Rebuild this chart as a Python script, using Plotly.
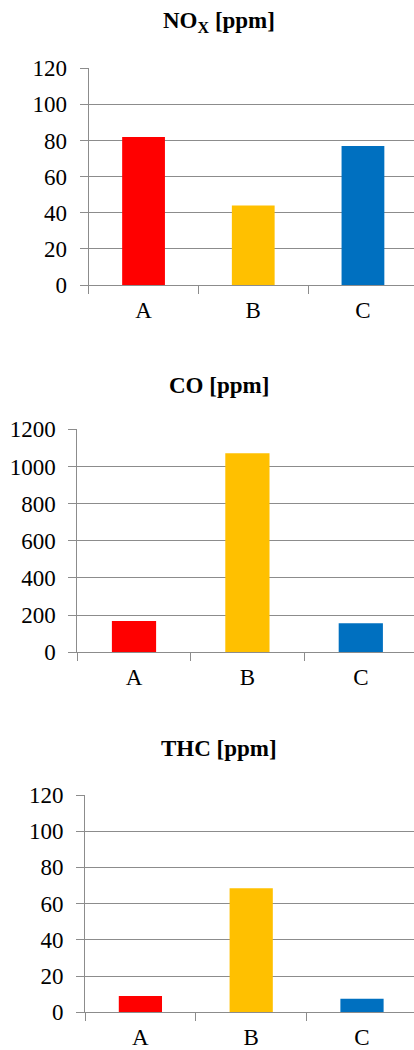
import plotly.graph_objects as go

categories = ["A", "B", "C"]
nox = [82, 44, 77]
co = [168, 1071, 156]
thc = [9, 68.5, 7.5]
colors = ["#FF0000", "#FFC000", "#0070C0"]
titles = ["NO<sub>X</sub> [ppm]", "CO [ppm]", "THC [ppm]"]
ymax = [120, 1200, 120]
ydtick = [20, 200, 20]

W, H = 414, 1050
# pixel geometry: (axis left x, plot top y, plot bottom y, category width, title y)
geo = [
    (88.7, 68.3, 285.0, 109.7, 22),
    (77.3, 429.3, 652.3, 113.4, 385),
    (85.0, 795.0, 1012.3, 110.8, 748),
]

fig = go.Figure()
series = [nox, co, thc]
grid = "#8C8C8C"
font_fam = "Liberation Serif"
for i, (vals, g) in enumerate(zip(series, geo)):
    ax_left, top, bot, cw, ty = g
    n = "" if i == 0 else str(i + 1)
    fig.add_trace(go.Bar(x=categories, y=vals, marker=dict(color=colors, line=dict(width=0)),
                         width=0.39, xaxis="x" + n, yaxis="y" + n, showlegend=False))
    xr_hi = -0.5 + (W - ax_left) / cw
    fig.layout["xaxis" + n] = dict(
        domain=[ax_left / W, 1], anchor="y" + n, range=[-0.5, xr_hi],
        type="category", tickson="boundaries", ticks="outside", ticklen=8,
        tickcolor=grid, tickwidth=1, showline=True, linecolor=grid, linewidth=1,
        showgrid=False, tickfont=dict(family=font_fam, size=23, color="#000"),
        ticklabelstandoff=4, fixedrange=True, automargin=False,
    )
    fig.layout["yaxis" + n] = dict(
        domain=[1 - bot / H, 1 - top / H], anchor="x" + n, range=[0, ymax[i]],
        dtick=ydtick[i], tick0=0, ticks="outside", ticklen=8, tickcolor=grid,
        showline=True, linecolor=grid, linewidth=1, showgrid=True, gridcolor=grid,
        gridwidth=1, zeroline=False, tickfont=dict(family=font_fam, size=23, color="#000"),
        ticklabelstandoff=8, fixedrange=True, automargin=False,
    )
    fig.add_annotation(text="<b>" + titles[i] + "</b>", x=219 / W, y=1 - ty / H,
                       xref="paper", yref="paper", showarrow=False, xanchor="center",
                       yanchor="middle", font=dict(family=font_fam, size=23, color="#000"))

fig.update_layout(template="none", width=W, height=H, margin=dict(l=0, r=0, t=0, b=0),
                  paper_bgcolor="white", plot_bgcolor="white", bargap=0.61)
fig.write_html("out.html", config={"displayModeBar": False},
               post_script="document.body.style.margin='0';document.body.style.overflow='hidden';")
